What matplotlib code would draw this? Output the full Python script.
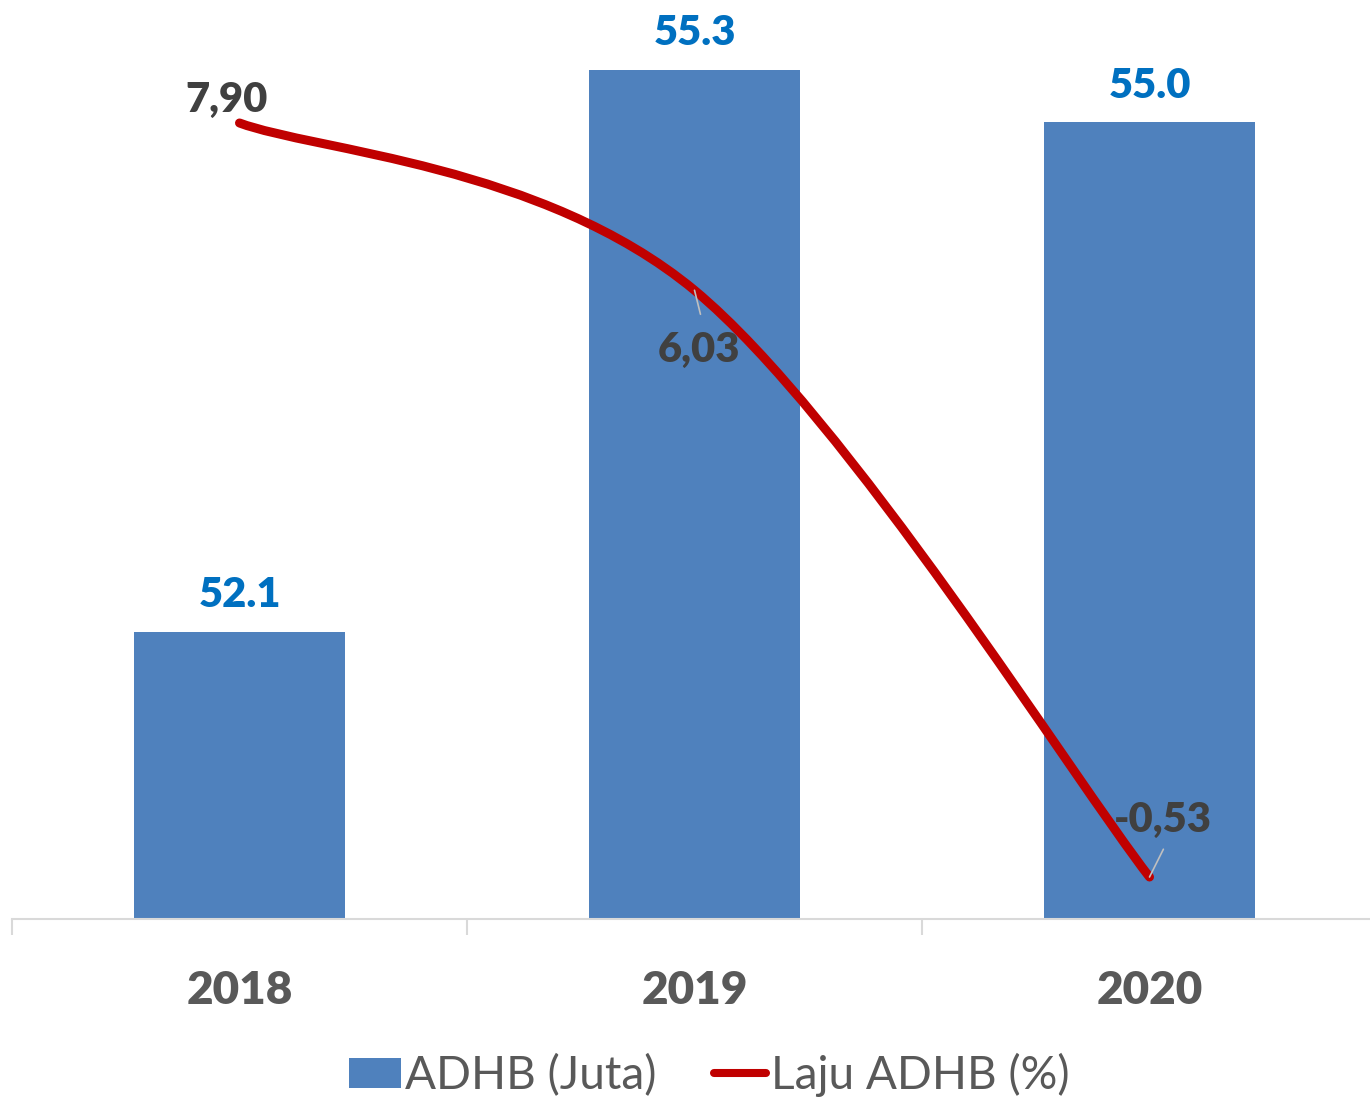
import matplotlib
matplotlib.use('Agg')
from matplotlib import pyplot as plt
from matplotlib.path import Path
from matplotlib.patches import PathPatch, Patch
from matplotlib.lines import Line2D

# Data
years = ['2018', '2019', '2020']
adhb = [52.1, 55.3, 55.0]           # ADHB (Juta)
laju = [7.90, 6.03, -0.53]          # Laju ADHB (%)
laju_labels = ['7,90', '6,03', '-0,53']

plt.rcParams['font.family'] = ['Lato', 'DejaVu Sans']
BOLD = 'heavy'

fig = plt.figure(figsize=(13.7, 10.99), dpi=100)
# plot area: left 12px, bottom at y=918.5px, top at figure top
ax = fig.add_axes([12 / 1370, (1099 - 918.5) / 1099, 1365 / 1370, 918.5 / 1099])
ax2 = ax.twinx()

x = list(range(len(years)))

# Bars
ax.bar(x, adhb, width=0.464, color='#4F81BD', zorder=2)
ax.set_ylim(50.466, 55.697)
ax.set_xlim(-0.5, 2.5)

for xi, v in zip(x, adhb):
    ax.annotate(f'{v:.1f}', xy=(xi, v), xytext=(0, 17.6), textcoords='offset points',
                ha='center', va='baseline', fontsize=30, fontweight=BOLD, color='#0070C0')

# Smoothed line (Excel-style bezier through points)
ax2.set_ylim(-0.994, 9.275)
pts = list(zip(x, laju))
verts = [pts[0]]
codes = [Path.MOVETO]
n = len(pts)
for i in range(n - 1):
    p_prev = pts[i - 1] if i > 0 else pts[i]
    p0 = pts[i]
    p1 = pts[i + 1]
    p_next = pts[i + 2] if i + 2 < n else pts[i + 1]
    c1 = (p0[0] + (p1[0] - p_prev[0]) / 6, p0[1] + (p1[1] - p_prev[1]) / 6)
    c2 = (p1[0] - (p_next[0] - p0[0]) / 6, p1[1] - (p_next[1] - p0[1]) / 6)
    verts += [c1, c2, p1]
    codes += [Path.CURVE4] * 3
curve = PathPatch(Path(verts, codes), fill=False, edgecolor='#C00000', linewidth=6.5,
                  capstyle='round', joinstyle='round', zorder=3)
ax2.add_patch(curve)

# Line labels with leader lines
label_offsets = [(-9.4, 8.0), (3.6, -52.0), (9.4, 32.4)]
leader_ends = [None, (4.3, -17.3), (10.0, 20.0)]
for xi, v, lab, off, lead in zip(x, laju, laju_labels, label_offsets, leader_ends):
    ax2.annotate(lab, xy=(xi, v), xytext=off, textcoords='offset points',
                 ha='center', va='baseline', fontsize=30, fontweight=BOLD, color='#404040',
                 zorder=5)
    if lead is not None:
        ax2.annotate('', xy=(xi, v), xytext=lead, textcoords='offset points',
                     arrowprops=dict(arrowstyle='-', color='#BFBFBF', lw=1.2,
                                     shrinkA=0, shrinkB=0), zorder=4)

# Axis styling
for a in (ax, ax2):
    for s in ['top', 'right', 'left']:
        a.spines[s].set_visible(False)
    a.set_yticks([])
ax2.spines['bottom'].set_visible(False)
ax.spines['bottom'].set_color('#D9D9D9')
ax.spines['bottom'].set_linewidth(1.5)
ax.set_xticks([])
ax.set_xticks([-0.5, 0.5, 1.5, 2.5], minor=True)
ax.tick_params(axis='x', which='minor', length=11.5, width=1.5, color='#D9D9D9', direction='out')

for xi, yr in zip(x, years):
    ax.annotate(yr, xy=(xi, 0), xycoords=('data', 'axes fraction'), xytext=(0, -61.6),
                textcoords='offset points', ha='center', va='baseline',
                fontsize=33, fontweight=BOLD, color='#595959', annotation_clip=False)

# Legend
handles = [Patch(facecolor='#4F81BD', edgecolor='none'),
           Line2D([0], [0], color='#C00000', lw=5.8, solid_capstyle='round')]
fig.legend(handles, ['ADHB (Juta)', 'Laju ADHB (%)'], loc='center',
           bbox_to_anchor=(709 / 1370, 1 - 1075 / 1099), ncol=2, frameon=False,
           fontsize=33, labelcolor='#595959', handlelength=1.135, handleheight=0.66,
           handletextpad=0.1, columnspacing=1.25, borderpad=0, borderaxespad=0)

fig.savefig('out.png', dpi=100)
